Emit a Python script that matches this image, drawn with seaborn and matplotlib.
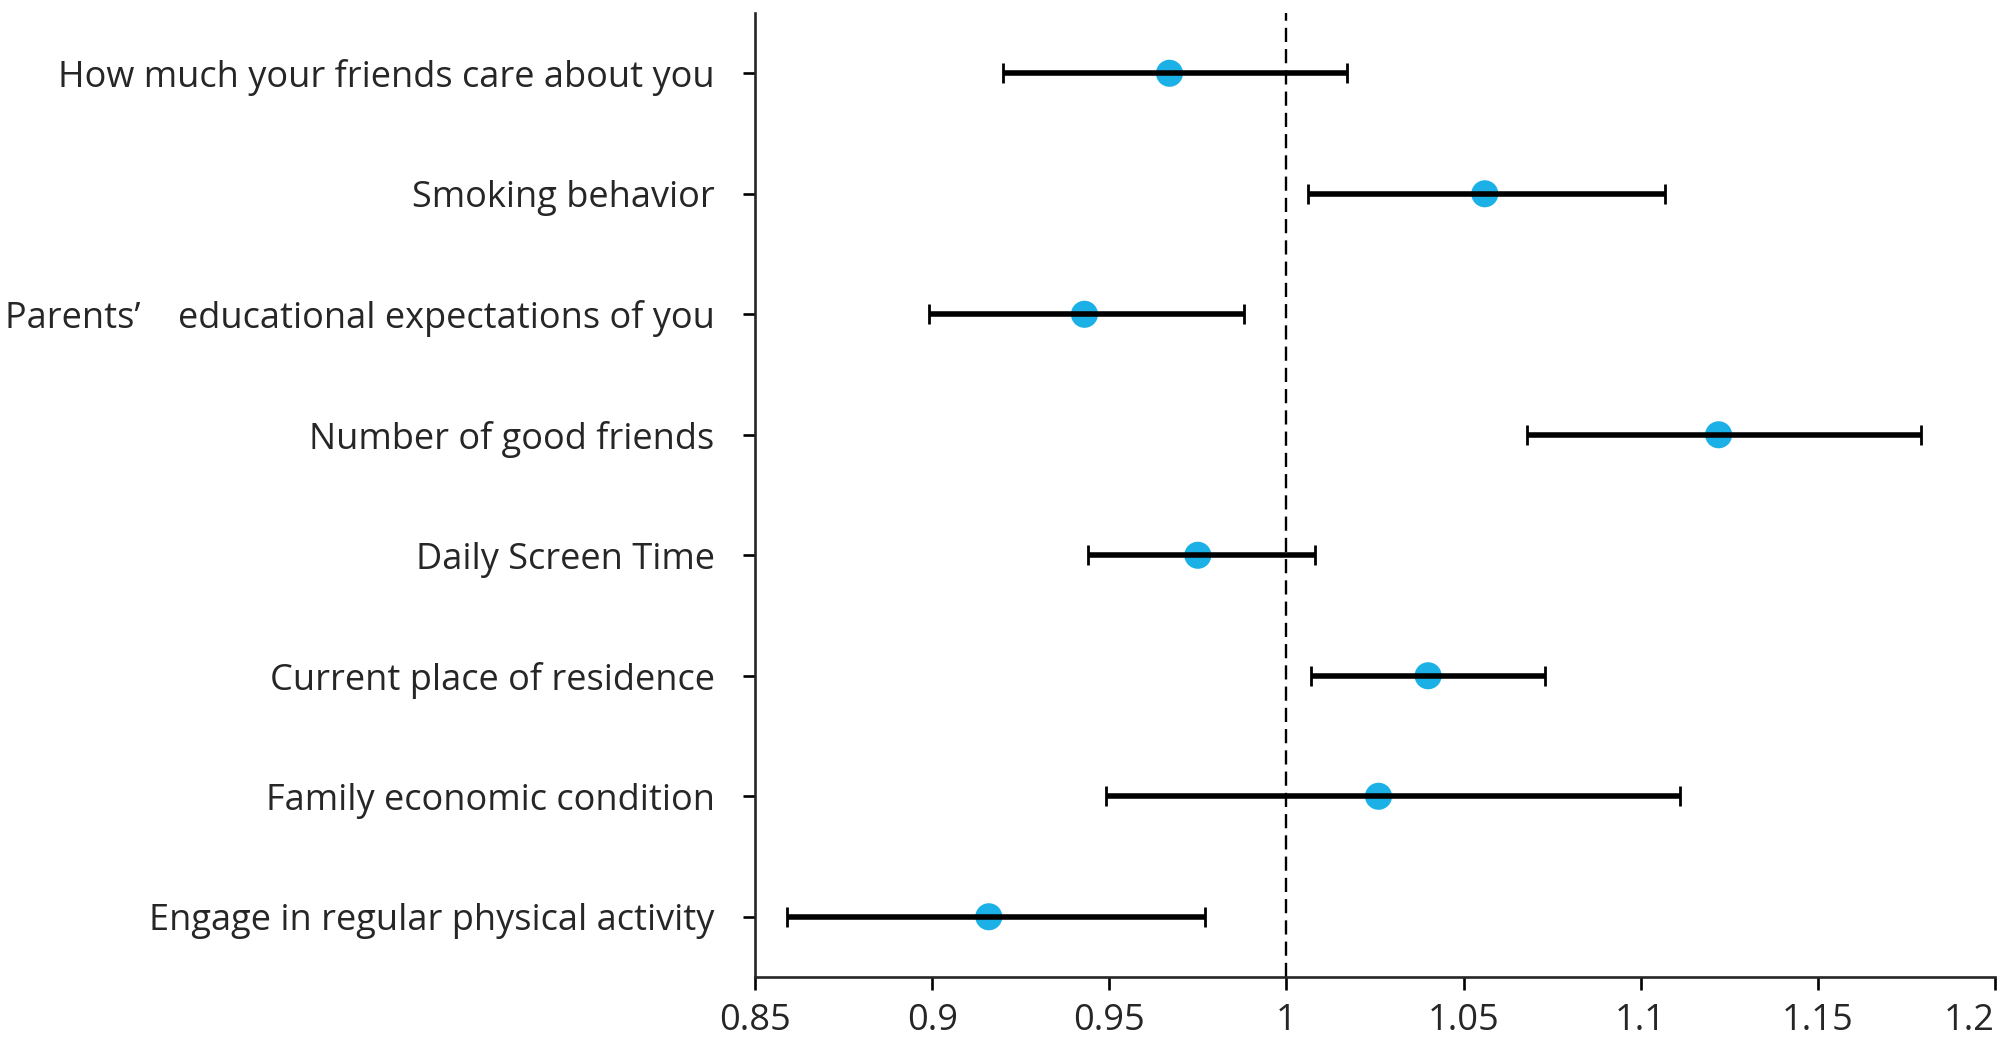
import numpy as np
import pandas as pd
import matplotlib
matplotlib.use('Agg')
import matplotlib.pyplot as plt
import seaborn as sns

# odds ratios and 95% CI (top to bottom)
factors = ['How much your friends care about you',
           'Smoking behavior',
           'Parents’    educational expectations of you',
           'Number of good friends',
           'Daily Screen Time',
           'Current place of residence',
           'Family economic condition',
           'Engage in regular physical activity']
odds_ratio = [0.967, 1.056, 0.943, 1.122, 0.975, 1.040, 1.026, 0.916]
ci_low = [0.920, 1.006, 0.899, 1.068, 0.944, 1.007, 0.949, 0.859]
ci_high = [1.017, 1.107, 0.988, 1.179, 1.008, 1.073, 1.111, 0.977]
x_ticks = [0.85, 0.9, 0.95, 1, 1.05, 1.1, 1.15, 1.2]
x_tick_labels = ['0.85', '0.9', '0.95', '1', '1.05', '1.1', '1.15', '1.2']

df = pd.DataFrame({'factor': factors, 'OR': odds_ratio,
                   'low': ci_low, 'high': ci_high})
df['pos'] = np.arange(len(df))

sns.set_style('ticks')
plt.rcParams['font.family'] = ['Open Sans', 'DejaVu Sans']

fig = plt.figure(figsize=(20.08, 10.51), dpi=100)
ax = fig.add_axes([0.376, 0.0704, 0.6175, 0.9172])

# 1. error bars (black, drawn above points as in the original)
ax.errorbar(df['OR'], df['pos'],
            xerr=[df['OR'] - df['low'], df['high'] - df['OR']],
            fmt='none', ecolor='black', elinewidth=4,
            capsize=7, capthick=2, zorder=3)

# 2. point estimates
sns.scatterplot(data=df, x='OR', y='pos', color='#1BB1E7', s=380,
                edgecolor='none', zorder=2, ax=ax, legend=False)

# 3. reference line at OR = 1
ax.axvline(1, color='black', lw=1.7, linestyle=(0, (6, 3)), zorder=1)

ax.set_xlim(0.85, 1.2)
ax.set_ylim(len(df) - 0.5, -0.5)
ax.set_xticks(x_ticks)
ax.set_xticklabels(x_tick_labels)
ax.set_yticks(df['pos'])
ax.set_yticklabels(df['factor'])
ax.set_xlabel('')
ax.set_ylabel('')

sns.despine(ax=ax)
for side in ['left', 'bottom']:
    ax.spines[side].set_linewidth(1.9)
ax.tick_params(axis='both', labelsize=26, width=1.9, length=9, color='black')
ax.tick_params(axis='y', pad=20)
ax.tick_params(axis='x', pad=10)
# last label sits left of its tick so it stays inside the figure
ax.get_xticklabels()[-1].set_horizontalalignment('right')

fig.savefig('out.png', dpi=100, facecolor='white')
